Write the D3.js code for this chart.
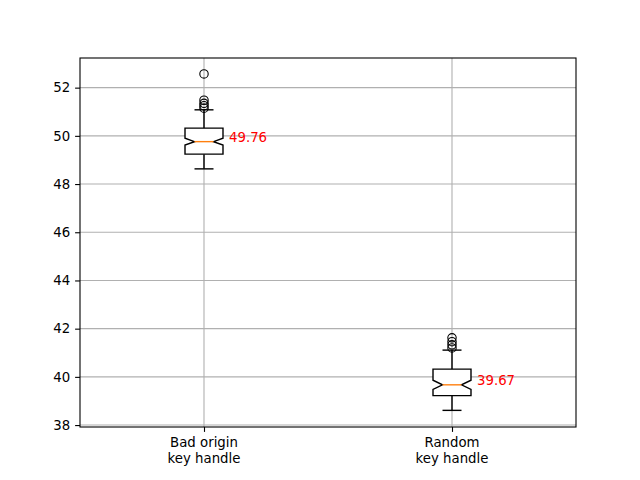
<!DOCTYPE html>
<html>
<head>
<meta charset="utf-8">
<script src="https://cdn.jsdelivr.net/npm/d3@7"></script>
<style>
  body { margin: 0; background: #fff; }
  text { font-family: "DejaVu Sans", sans-serif; }
</style>
</head>
<body>
<div id="plot"></div>
<script>
// data
const categories = ["Bad origin\nkey handle", "Random\nkey handle"];
const medians = [49.76, 39.67];
const q1 = [49.24, 39.22];
const q3 = [50.32, 40.32];
const whiskerLo = [48.63, 38.61];
const whiskerHi = [51.08, 41.11];
const notchLo = [49.62, 39.48];
const notchHi = [49.90, 39.86];
const outliers = [
  [51.15, 51.25, 51.35, 51.48, 52.57],
  [41.2, 41.33, 41.46, 41.62]
];
const yTicks = [38, 40, 42, 44, 46, 48, 50, 52];

const margin = {top: 58, right: 64, bottom: 53, left: 80},
    width = 640 - margin.left - margin.right,
    height = 480 - margin.top - margin.bottom;

const svg = d3.select("#plot")
  .append("svg")
    .attr("width", 640)
    .attr("height", 480)
  .append("g")
    .attr("transform", "translate(" + margin.left + "," + margin.top + ")");

const x = d3.scaleLinear().domain([0.5, 2.5]).range([0, width]);
const y = d3.scaleLinear().domain([37.92, 53.23]).range([height, 0]);
const boxW = 0.0766; // half width in data units

// grid
svg.append("g")
  .selectAll("line")
  .data(yTicks)
  .enter().append("line")
    .attr("x1", 0).attr("x2", width)
    .attr("y1", d => y(d)).attr("y2", d => y(d))
    .attr("stroke", "#b0b0b0").attr("stroke-width", 1.1);
svg.append("g")
  .selectAll("line")
  .data(categories)
  .enter().append("line")
    .attr("x1", (d, i) => x(i + 1)).attr("x2", (d, i) => x(i + 1))
    .attr("y1", 0).attr("y2", height)
    .attr("stroke", "#b0b0b0").attr("stroke-width", 1.1);

// axes
const yAxis = svg.append("g")
  .call(d3.axisLeft(y).tickValues(yTicks).tickFormat(d3.format("d")).tickSizeOuter(0).tickSize(4.9).tickPadding(4.9));
const xAxis = svg.append("g")
  .attr("transform", "translate(0," + height + ")")
  .call(d3.axisBottom(x).tickValues([1, 2]).tickFormat("").tickSizeOuter(0).tickSize(4.9));
[yAxis, xAxis].forEach(a => {
  a.select(".domain").remove();
  a.selectAll("line").attr("stroke", "#000").attr("stroke-width", 1.1);
  a.selectAll("text").attr("font-size", 13.3).attr("fill", "#000")
    .attr("font-family", "DejaVu Sans, sans-serif");
});

// x labels, two lines each
categories.forEach((c, i) => {
  const t = svg.append("text")
    .attr("x", x(i + 1))
    .attr("y", height + 11)
    .attr("text-anchor", "middle")
    .attr("font-size", 13.3)
    .attr("fill", "#000");
  c.split("\n").forEach((line, k) => {
    t.append("tspan")
      .attr("x", x(i + 1))
      .attr("dy", k === 0 ? "0.71em" : "1.17em")
      .text(line);
  });
});

// boxes
const boxes = svg.append("g")
  .selectAll("g")
  .data(medians)
  .enter().append("g");

boxes.each(function(m, i) {
  const g = d3.select(this);
  const p = i + 1;
  const L = x(p - boxW), R = x(p + boxW);
  const l2 = x(p - boxW / 2), r2 = x(p + boxW / 2);
  const path = d3.path();
  path.moveTo(L, y(q1[i]));
  path.lineTo(R, y(q1[i]));
  path.lineTo(R, y(notchLo[i]));
  path.lineTo(r2, y(m));
  path.lineTo(R, y(notchHi[i]));
  path.lineTo(R, y(q3[i]));
  path.lineTo(L, y(q3[i]));
  path.lineTo(L, y(notchHi[i]));
  path.lineTo(l2, y(m));
  path.lineTo(L, y(notchLo[i]));
  path.closePath();

  // whiskers
  g.append("line")
    .attr("x1", x(p)).attr("x2", x(p))
    .attr("y1", y(q1[i])).attr("y2", y(whiskerLo[i]))
    .attr("stroke", "#000").attr("stroke-width", 1.4);
  g.append("line")
    .attr("x1", x(p)).attr("x2", x(p))
    .attr("y1", y(q3[i])).attr("y2", y(whiskerHi[i]))
    .attr("stroke", "#000").attr("stroke-width", 1.4);
  [whiskerLo[i], whiskerHi[i]].forEach(v => {
    g.append("line")
      .attr("x1", l2).attr("x2", r2)
      .attr("y1", y(v)).attr("y2", y(v))
      .attr("stroke", "#000").attr("stroke-width", 1.4);
  });

  g.append("path")
    .attr("d", path.toString())
    .attr("fill", "#fff")
    .attr("stroke", "#000")
    .attr("stroke-width", 1.4);

  g.append("line")
    .attr("x1", l2).attr("x2", r2)
    .attr("y1", y(m)).attr("y2", y(m))
    .attr("stroke", "#ff7f0e").attr("stroke-width", 1.4);

  g.selectAll("circle")
    .data(outliers[i])
    .enter().append("circle")
      .attr("cx", x(p))
      .attr("cy", d => y(d))
      .attr("r", 4.2)
      .attr("fill", "none")
      .attr("stroke", "#000")
      .attr("stroke-width", 1.1);

  g.append("text")
    .attr("x", R + 6)
    .attr("y", y(m))
    .attr("font-size", 13.3)
    .attr("fill", "red")
    .text(m.toFixed(2));
});

// frame
svg.append("rect")
  .attr("width", width).attr("height", height)
  .attr("fill", "none").attr("stroke", "#000").attr("stroke-width", 1.1);
</script>
</body>
</html>
